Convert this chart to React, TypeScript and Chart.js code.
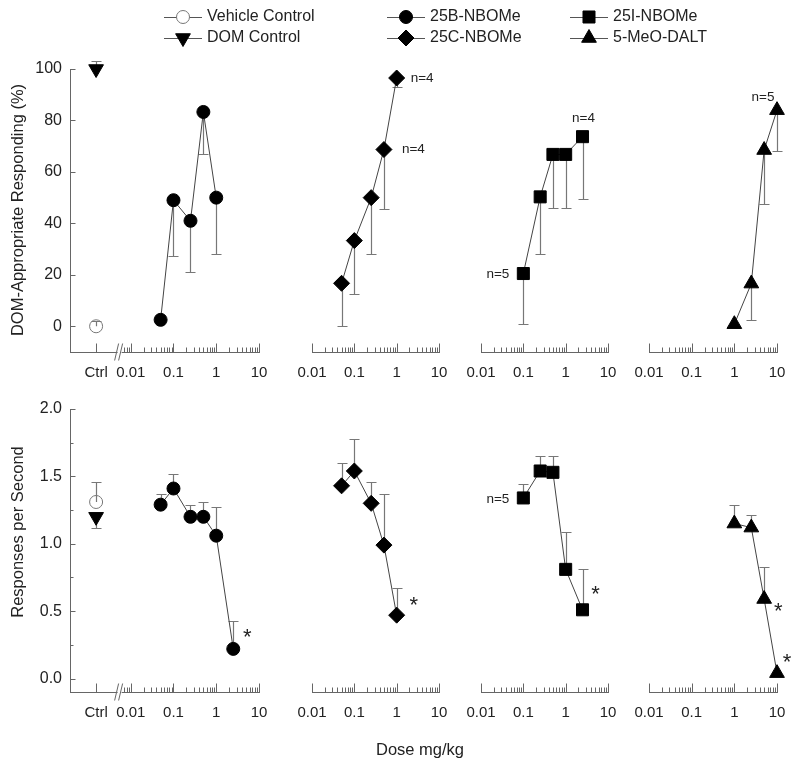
import React, { useEffect, useRef } from 'react';
import { Chart, registerables } from 'chart.js';

Chart.register(...registerables);

const W = 800;
const H = 766;
const FONT = '"Liberation Sans", Arial, Helvetica, sans-serif';
const TEXT_COLOR = '#222';
const AXIS_COLOR = '#666';
const LINE_COLOR = '#444';
const ERR_COLOR = '#777';

// ---------------- data ----------------
const CTRL_LABEL = 'Ctrl';
const X_TICK_VALUES = [0.01, 0.1, 1, 10];
const X_TICK_LABELS = ['0.01', '0.1', '1', '10'];
const TOP_Y_TICKS = [0, 20, 40, 60, 80, 100];
const BOTTOM_Y_TICKS = [0, 0.5, 1, 1.5, 2];
const BOTTOM_Y_MINOR = [0.25, 0.75, 1.25, 1.75];

const CONTROL_NAMES = ['Vehicle Control', 'DOM Control'];
const CONTROL_DOM = [0, 100];
const CONTROL_DOM_SEM = [2, 3];
const CONTROL_DOM_DIR = [1, 1];
const CONTROL_RATE = [1.31, 1.2];
const CONTROL_RATE_SEM = [0.15, 0.08];
const CONTROL_RATE_DIR = [1, -1];

const COMPOUND_NAMES = ['25B-NBOMe', '25C-NBOMe', '25I-NBOMe', '5-MeO-DALT'];

const DOSES_25B_DOM = [0.05, 0.1, 0.25, 0.5, 1];
const DOM_25B = [2.5, 49, 41, 83.3, 50];
const DOM_25B_SEM = [0, 21.6, 20, 16.5, 22];
const DOSES_25B_RATE = [0.05, 0.1, 0.25, 0.5, 1, 2.5];
const RATE_25B = [1.29, 1.41, 1.2, 1.2, 1.06, 0.22];
const RATE_25B_SEM = [0.08, 0.11, 0.09, 0.11, 0.21, 0.21];

const DOSES_25C = [0.05, 0.1, 0.25, 0.5, 1];
const DOM_25C = [16.7, 33.3, 50, 68.7, 96.5];
const DOM_25C_SEM = [16.7, 20.8, 22, 23.2, 3.5];
const RATE_25C = [1.43, 1.54, 1.3, 0.99, 0.47];
const RATE_25C_SEM = [0.17, 0.24, 0.16, 0.38, 0.2];

const DOSES_25I = [0.1, 0.25, 0.5, 1, 2.5];
const DOM_25I = [20.5, 50.3, 66.8, 66.8, 73.7];
const DOM_25I_SEM = [19.7, 22.3, 20.9, 20.9, 24.3];
const RATE_25I = [1.34, 1.54, 1.53, 0.81, 0.51];
const RATE_25I_SEM = [0.1, 0.11, 0.12, 0.28, 0.3];

const DOSES_DALT = [1, 2.5, 5, 10];
const DOM_DALT = [0.8, 16.6, 68.5, 84];
const DOM_DALT_SEM = [0, 14.3, 21, 15.8];
const RATE_DALT = [1.15, 1.12, 0.59, 0.04];
const RATE_DALT_SEM = [0.14, 0.09, 0.24, 0];

const SERIES_TOP = [
  { doses: DOSES_25B_DOM, values: DOM_25B, sems: DOM_25B_SEM },
  { doses: DOSES_25C, values: DOM_25C, sems: DOM_25C_SEM },
  { doses: DOSES_25I, values: DOM_25I, sems: DOM_25I_SEM },
  { doses: DOSES_DALT, values: DOM_DALT, sems: DOM_DALT_SEM },
];
const SERIES_BOTTOM = [
  { doses: DOSES_25B_RATE, values: RATE_25B, sems: RATE_25B_SEM },
  { doses: DOSES_25C, values: RATE_25C, sems: RATE_25C_SEM },
  { doses: DOSES_25I, values: RATE_25I, sems: RATE_25I_SEM },
  { doses: DOSES_DALT, values: RATE_DALT, sems: RATE_DALT_SEM },
];

// annotations: [row, col, point index, text]
const NOTE_TEXTS = [
  [0, 1, 4, 'n=4'],
  [0, 1, 3, 'n=4'],
  [0, 2, 0, 'n=5'],
  [0, 2, 4, 'n=4'],
  [0, 3, 3, 'n=5'],
  [1, 2, 0, 'n=5'],
  [1, 0, 5, '*'],
  [1, 1, 4, '*'],
  [1, 2, 4, '*'],
  [1, 3, 2, '*'],
  [1, 3, 3, '*'],
];

// ---------------- styles / layout ----------------
const NOTE_PLACEMENT = [
  { dx: 14, dy: 0, align: 'left' },
  { dx: 18, dy: 0, align: 'left' },
  { dx: -14, dy: 1, align: 'right' },
  { dx: 1, dy: -18, align: 'center' },
  { dx: -14, dy: -13, align: 'center' },
  { dx: -14, dy: 1, align: 'right' },
  { dx: 14, dy: -16, align: 'center' },
  { dx: 17, dy: -15, align: 'center' },
  { dx: 13, dy: -20, align: 'center' },
  { dx: 14, dy: 7, align: 'center' },
  { dx: 10, dy: -16, align: 'center' },
];

const MARKERS: Record<string, any> = {
  'Vehicle Control': { pointStyle: 'circle', radius: 6.5, rotation: 0, fill: 'rgba(0,0,0,0)', stroke: '#777' },
  'DOM Control': { pointStyle: 'triangle', radius: 8.5, rotation: 180, fill: '#000', stroke: '#000' },
  '25B-NBOMe': { pointStyle: 'circle', radius: 6.5, rotation: 0, fill: '#000', stroke: '#000' },
  '25C-NBOMe': { pointStyle: 'rectRot', radius: 8, rotation: 0, fill: '#000', stroke: '#000' },
  '25I-NBOMe': { pointStyle: 'rect', radius: 8.5, rotation: 0, fill: '#000', stroke: '#000' },
  '5-MeO-DALT': { pointStyle: 'triangle', radius: 8.5, rotation: 0, fill: '#000', stroke: '#000' },
};

const LEGEND_ORDER = ['Vehicle Control', 'DOM Control', '25B-NBOMe', '25C-NBOMe', '25I-NBOMe', '5-MeO-DALT'];
const LEGEND_COLS = [183, 406, 589];
const LEGEND_ROWS = [17, 38];

const X_AXIS_H = 40;
const Y_AXIS_W = 66;
const CTRL_X = 0.00155;
const BREAK_X = 0.0055;
const P1_MIN = 0.00038;

const ROWS = [
  { top: 69, bottom: 352, yMin: -10, yMax: 100, yTicks: TOP_Y_TICKS, yMinor: [] as number[], dec: 0,
    title: 'DOM-Appropriate Responding (%)', titleY: 210, series: SERIES_TOP,
    ctrl: CONTROL_DOM, ctrlSem: CONTROL_DOM_SEM, ctrlDir: CONTROL_DOM_DIR, dir: -1 },
  { top: 409, bottom: 692, yMin: -0.1, yMax: 2, yTicks: BOTTOM_Y_TICKS, yMinor: BOTTOM_Y_MINOR, dec: 1,
    title: 'Responses per Second', titleY: 532, series: SERIES_BOTTOM,
    ctrl: CONTROL_RATE, ctrlSem: CONTROL_RATE_SEM, ctrlDir: CONTROL_RATE_DIR, dir: 1 },
];
const COLS = [
  { left: 70, right: 259, xMin: P1_MIN, hasCtrl: true },
  { left: 312, right: 439, xMin: 0.01, hasCtrl: false },
  { left: 481, right: 608, xMin: 0.01, hasCtrl: false },
  { left: 649, right: 777, xMin: 0.01, hasCtrl: false },
];

function drawMarker(ctx: CanvasRenderingContext2D, st: any, x: number, y: number, fillOverride?: string) {
  ctx.save();
  ctx.fillStyle = fillOverride || st.fill;
  ctx.strokeStyle = st.stroke;
  ctx.lineWidth = 1;
  const r = st.radius;
  ctx.beginPath();
  if (st.pointStyle === 'circle') {
    ctx.arc(x, y, r, 0, Math.PI * 2);
  } else if (st.pointStyle === 'rect') {
    const s = r * Math.SQRT1_2;
    ctx.rect(x - s, y - s, 2 * s, 2 * s);
  } else if (st.pointStyle === 'rectRot') {
    ctx.moveTo(x, y - r);
    ctx.lineTo(x + r, y);
    ctx.lineTo(x, y + r);
    ctx.lineTo(x - r, y);
    ctx.closePath();
  } else {
    const rot = (st.rotation || 0) * Math.PI / 180;
    for (let k = 0; k < 3; k++) {
      const a = rot + k * 2 * Math.PI / 3;
      const px = x + Math.sin(a) * r;
      const py = y - Math.cos(a) * r;
      if (k === 0) ctx.moveTo(px, py); else ctx.lineTo(px, py);
    }
    ctx.closePath();
  }
  ctx.fill();
  ctx.stroke();
  ctx.restore();
}

function pointDataset(name: string, doses: number[], values: number[], sems: number[], dirs: number[], showLine: boolean) {
  const st = MARKERS[name];
  return {
    label: name,
    data: doses.map((d, i) => ({ x: d, y: values[i] })),
    errors: sems,
    errDirs: dirs,
    showLine,
    fill: false,
    tension: 0,
    borderColor: LINE_COLOR,
    borderWidth: 1,
    pointStyle: st.pointStyle,
    pointRadius: st.radius,
    pointRotation: st.rotation,
    pointBackgroundColor: st.fill,
    pointBorderColor: st.stroke,
    pointBorderWidth: 1,
    clip: false,
  };
}

function buildConfig(r: number, c: number) {
  const row = ROWS[r];
  const col = COLS[c];
  const s = row.series[c];
  const datasets: any[] = [];
  if (col.hasCtrl) {
    CONTROL_NAMES.forEach((nm, k) => {
      datasets.push(pointDataset(nm, [CTRL_X], [row.ctrl[k]], [row.ctrlSem[k]], [row.ctrlDir[k]], false));
    });
  }
  datasets.push(pointDataset(COMPOUND_NAMES[c], s.doses, s.values, s.sems, s.doses.map(() => row.dir), true));

  const xVals = col.hasCtrl ? [CTRL_X, ...X_TICK_VALUES] : X_TICK_VALUES;
  const xLabs = col.hasCtrl ? [CTRL_LABEL, ...X_TICK_LABELS] : X_TICK_LABELS;
  const notes = NOTE_TEXTS.map((n, k) => ({ n, p: NOTE_PLACEMENT[k] })).filter(o => o.n[0] === r && o.n[1] === c);

  const deco = {
    id: 'deco',
    beforeDatasetsDraw(chart: any) {
      const ctx = chart.ctx;
      const xs = chart.scales.x, ys = chart.scales.y;
      ctx.save();
      ctx.strokeStyle = ERR_COLOR;
      ctx.lineWidth = 1.2;
      chart.data.datasets.forEach((ds: any) => {
        (ds.errors || []).forEach((e: number, i: number) => {
          if (!e) return;
          const pt = ds.data[i];
          const x = Math.round(xs.getPixelForValue(pt.x)) + 0.5;
          const y0 = ys.getPixelForValue(pt.y);
          const y1 = Math.round(ys.getPixelForValue(pt.y + ds.errDirs[i] * e)) + 0.5;
          ctx.beginPath();
          ctx.moveTo(x, y0);
          ctx.lineTo(x, y1);
          ctx.moveTo(x - 5, y1);
          ctx.lineTo(x + 5, y1);
          ctx.stroke();
        });
      });
      ctx.restore();
    },
    afterDraw(chart: any) {
      const ctx = chart.ctx;
      const xs = chart.scales.x, ys = chart.scales.y;
      const area = chart.chartArea;
      const yb = Math.round(area.bottom) + 0.5;
      ctx.save();
      ctx.strokeStyle = AXIS_COLOR;
      ctx.lineWidth = 1;
      // x ticks (inward)
      const majors = [...X_TICK_VALUES];
      if (col.hasCtrl) majors.push(CTRL_X);
      const minors: number[] = [];
      [0.01, 0.1, 1].forEach(d => { for (let m = 2; m <= 9; m++) minors.push(m * d); });
      if (col.hasCtrl) minors.push(0.007, 0.008, 0.009);
      ctx.beginPath();
      majors.forEach(v => {
        const x = Math.round(xs.getPixelForValue(v)) + 0.5;
        ctx.moveTo(x, yb); ctx.lineTo(x, yb - 9);
      });
      minors.forEach(v => {
        const x = Math.round(xs.getPixelForValue(v)) + 0.5;
        ctx.moveTo(x, yb); ctx.lineTo(x, yb - 5);
      });
      ctx.stroke();
      if (col.hasCtrl) {
        // axis break
        const bx = xs.getPixelForValue(BREAK_X);
        ctx.fillStyle = '#fff';
        ctx.fillRect(bx - 2, yb - 2, 4, 4);
        ctx.beginPath();
        ctx.moveTo(bx - 5, yb + 8); ctx.lineTo(bx - 1, yb - 9);
        ctx.moveTo(bx - 1, yb + 8); ctx.lineTo(bx + 3, yb - 9);
        ctx.stroke();
        // y ticks (inward)
        const xl = Math.round(area.left) + 0.5;
        ctx.beginPath();
        row.yTicks.forEach(v => {
          const y = Math.round(ys.getPixelForValue(v)) + 0.5;
          ctx.moveTo(xl, y); ctx.lineTo(xl + 5, y);
        });
        row.yMinor.forEach(v => {
          const y = Math.round(ys.getPixelForValue(v)) + 0.5;
          ctx.moveTo(xl, y); ctx.lineTo(xl + 3, y);
        });
        ctx.stroke();
        // axis titles
        ctx.fillStyle = TEXT_COLOR;
        ctx.font = `16.5px ${FONT}`;
        ctx.textAlign = 'center';
        ctx.textBaseline = 'middle';
        ctx.save();
        ctx.translate(18, row.titleY);
        ctx.rotate(-Math.PI / 2);
        ctx.fillText(row.title, 0, 0);
        ctx.restore();
        if (r === 1) {
          ctx.fillText('Dose mg/kg', 420, 750);
        }
        if (r === 0) {
          // legend
          LEGEND_ORDER.forEach((nm, k) => {
            const cx = LEGEND_COLS[Math.floor(k / 2)];
            const cy = LEGEND_ROWS[k % 2];
            ctx.strokeStyle = '#555';
            ctx.beginPath();
            ctx.moveTo(cx - 19, cy + 0.5); ctx.lineTo(cx + 19, cy + 0.5);
            ctx.stroke();
            drawMarker(ctx, MARKERS[nm], cx, cy, nm === 'Vehicle Control' ? '#fff' : undefined);
            ctx.fillStyle = TEXT_COLOR;
            ctx.font = `16px ${FONT}`;
            ctx.textAlign = 'left';
            ctx.fillText(nm, cx + 24, cy);
          });
        }
      }
      // annotations
      const main = chart.data.datasets[chart.data.datasets.length - 1];
      notes.forEach(({ n, p }) => {
        const pt = main.data[n[2] as number];
        const px = xs.getPixelForValue(pt.x) + p.dx;
        const py = ys.getPixelForValue(pt.y) + p.dy;
        const star = n[3] === '*';
        const fs = star ? 22 : 13.5;
        ctx.fillStyle = TEXT_COLOR;
        ctx.font = `${fs}px ${FONT}`;
        ctx.textAlign = p.align as CanvasTextAlign;
        ctx.textBaseline = 'middle';
        ctx.fillText(n[3] as string, px, py + (star ? fs * 0.25 : 0));
      });
      ctx.restore();
    },
  };

  return {
    type: 'line' as const,
    data: { datasets },
    plugins: [deco],
    options: {
      responsive: false,
      animation: false as const,
      devicePixelRatio: 1,
      events: [],
      layout: {
        padding: {
          left: col.hasCtrl ? col.left - Y_AXIS_W : col.left,
          right: W - col.right,
          top: row.top,
          bottom: H - row.bottom - X_AXIS_H,
        },
      },
      plugins: { legend: { display: false }, tooltip: { enabled: false }, title: { display: false } },
      scales: {
        x: {
          type: 'logarithmic' as const,
          min: col.xMin,
          max: 10,
          offset: false,
          grid: { display: false, drawTicks: false },
          border: { display: true, color: AXIS_COLOR, width: 1 },
          ticks: {
            autoSkip: false,
            maxRotation: 0,
            minRotation: 0,
            padding: 12,
            color: TEXT_COLOR,
            font: { family: FONT, size: 15 },
            callback: (_v: any, i: number) => xLabs[i],
          },
          afterBuildTicks: (sc: any) => { sc.ticks = xVals.map(v => ({ value: v })); },
          afterFit: (sc: any) => { sc.height = X_AXIS_H; },
        },
        y: {
          type: 'linear' as const,
          display: col.hasCtrl,
          min: row.yMin,
          max: row.yMax,
          grid: { display: false, drawTicks: false },
          border: { display: true, color: AXIS_COLOR, width: 1 },
          ticks: {
            padding: 8,
            color: TEXT_COLOR,
            font: { family: FONT, size: 16 },
            callback: (v: any) => Number(v).toFixed(row.dec),
          },
          afterBuildTicks: (sc: any) => { sc.ticks = row.yTicks.map(v => ({ value: v })); },
          afterFit: (sc: any) => { sc.width = col.hasCtrl ? Y_AXIS_W : 0; },
        },
      },
    },
  };
}

export default function App() {
  const refs = useRef<(HTMLCanvasElement | null)[]>([]);
  useEffect(() => {
    const charts: Chart[] = [];
    ROWS.forEach((_row, r) => {
      COLS.forEach((_col, c) => {
        const cv = refs.current[r * 4 + c];
        if (cv) charts.push(new Chart(cv, buildConfig(r, c) as any));
      });
    });
    return () => { charts.forEach(ch => ch.destroy()); };
  }, []);
  return (
    <div style={{ position: 'fixed', left: 0, top: 0, width: W, height: H, background: '#fff' }}>
      {Array.from({ length: 8 }).map((_, k) => (
        <canvas
          key={k}
          ref={el => { refs.current[k] = el; }}
          width={W}
          height={H}
          style={{ position: 'absolute', left: 0, top: 0, width: W, height: H }}
        />
      ))}
    </div>
  );
}
